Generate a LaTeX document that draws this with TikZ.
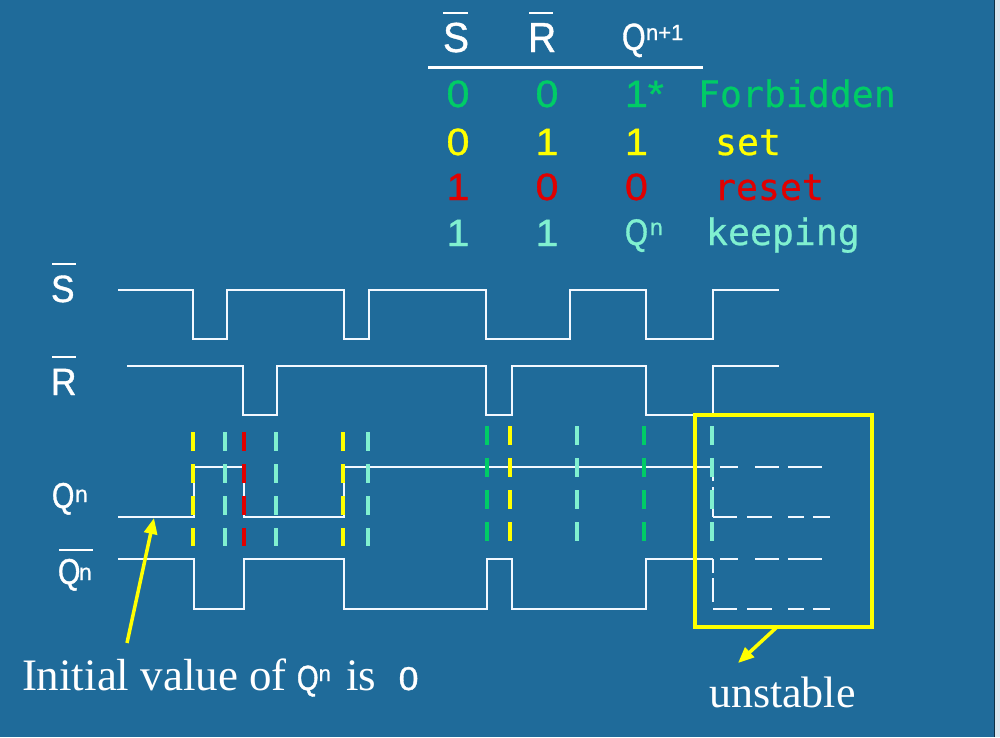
\documentclass[tikz,border=0pt]{standalone}
\usepackage{fontspec}
\setmainfont{Liberation Serif}
\newfontfamily\lab[FakeStretch=0.93, FakeBold=1]{Liberation Sans}
\newfontfamily\labq[FakeStretch=0.8, FakeBold=1]{Liberation Sans}
\newfontfamily\labd[FakeStretch=1.08, FakeBold=1]{Liberation Sans}
\newfontfamily\labw[FakeBold=1]{Liberation Sans}
\newfontfamily\mono[FakeBold=0.6]{DejaVu Sans Mono}
\usetikzlibrary{arrows.meta}
\definecolor{bg}{HTML}{1F6B9A}
\definecolor{wave}{HTML}{F2F8FF}
\definecolor{myyellow}{HTML}{FFFF00}
\definecolor{aqua}{HTML}{80F0D0}
\definecolor{mygreen}{HTML}{00CC66}
\definecolor{myred}{HTML}{E00000}
\definecolor{stripc}{HTML}{DCE6EE}
\newcommand\fs[1]{\fontsize{#1}{#1}\selectfont}
\begin{document}
\begin{tikzpicture}[x=1pt,y=-1pt,
  txt/.style={inner sep=0pt, outer sep=0pt, anchor=base west, text=white},
  txtc/.style={inner sep=0pt, outer sep=0pt, anchor=base},
  wavel/.style={draw=wave, line width=2.2pt, line join=miter},
  bar/.style={draw=white, line width=2.6pt},
  marker/.style={line width=4.5pt, dash pattern=on 18.5pt off 13.5pt},
  dashA/.style={draw=wave, line width=2.2pt, dash pattern=on 18pt off 17pt on 24pt off 9pt on 34pt off 60pt},
  dashB/.style={draw=wave, line width=2.2pt, dash pattern=on 24pt off 10pt on 25pt off 16pt on 16pt off 9pt on 17pt off 60pt},
  yarrow/.style={draw=myyellow, line width=3.5pt, -{Triangle[length=16pt,width=13pt]}}
]
\useasboundingbox (0,0) rectangle (1000,737);
\fill[bg] (0,0) rectangle (1000,737);
\fill[stripc] (994.5,0) rectangle (1000,737);
\draw[black!55!bg, line width=1pt] (994.5,0) -- (994.5,737);

% ---------- table ----------
\node[txt] (hS) at (443,52) {\lab\fs{42}S};
\node[txt] (hR) at (528,52) {\lab\fs{42}R};
\node[txt] (hQ) at (622,50) {\labq\fs{38}Q};
\node[txt] (hQs) at (646,40) {\labw\fs{22}n+1};
\draw[bar] (443,13) -- (468,13);
\draw[bar] (529,13) -- (553,13);
\draw[draw=white, line width=3pt] (428,67) -- (703,67);

\node[txtc, text=mygreen] (a1) at (458,107) {\labd\fs{38}0};
\node[txtc, text=mygreen] (b1) at (547,107) {\labd\fs{38}0};
\node[txt,  text=mygreen] (c1) at (625,107) {\labd\fs{38}1*};
\node[txt,  text=mygreen] (d1) at (698,107) {\mono\fs{36.5}Forbidden};

\node[txtc, text=myyellow] (a2) at (458,155) {\labd\fs{38}0};
\node[txtc, text=myyellow] (b2) at (547,155) {\labd\fs{38}1};
\node[txt,  text=myyellow] (c2) at (625,155) {\labd\fs{38}1};
\node[txt,  text=myyellow] (d2) at (715,155) {\mono\fs{36.5}set};

\node[txtc, text=myred] (a3) at (458,200) {\labd\fs{38}1};
\node[txtc, text=myred] (b3) at (547,200) {\labd\fs{38}0};
\node[txt,  text=myred] (c3) at (625,200) {\labd\fs{38}0};
\node[txt,  text=myred] (d3) at (714,200) {\mono\fs{36.5}reset};

\node[txtc, text=aqua] (a4) at (458,246) {\labd\fs{38}1};
\node[txtc, text=aqua] (b4) at (547,246) {\labd\fs{38}1};
\node[txt,  text=aqua] (c4) at (625,245) {\labq\fs{37}Q};
\node[txt,  text=aqua] (c4s) at (650,235) {\labw\fs{23}n};
\node[txt,  text=aqua] (d4) at (706,245) {\mono\fs{36.5}keeping};

% ---------- signal labels ----------
\node[txt] (lS) at (51,302) {\lab\fs{38}S};
\draw[bar] (52,264) -- (76,264);
\node[txt] (lR) at (51,395) {\lab\fs{38}R};
\draw[bar] (52,357) -- (76,357);
\node[txt] (lQ) at (52,508) {\labq\fs{36}Q};
\node[txt] (lQs) at (75,502) {\labw\fs{23}n};
\node[txt] (lQb) at (58,584) {\labq\fs{36}Q};
\node[txt] (lQbs) at (79,580) {\labw\fs{23}n};
\draw[bar] (59,550) -- (93,550);

% ---------- waveforms ----------
\draw[wavel] (118,290) -- (193,290) -- (193,339) -- (227,339) -- (227,290) -- (344,290) -- (344,339) -- (369,339) -- (369,290) -- (486,290) -- (486,339) -- (570,339) -- (570,290) -- (646,290) -- (646,339) -- (713,339) -- (713,290) -- (779,290);
\draw[wavel] (127,366) -- (243,366) -- (243,415) -- (277,415) -- (277,366) -- (486,366) -- (486,415) -- (512,415) -- (512,366) -- (646,366) -- (646,415) -- (713,415) -- (713,366) -- (779,366);
\draw[wavel] (118,517) -- (194,517) -- (194,467) -- (244,467) -- (244,517) -- (344,517) -- (344,467) -- (713,467);
\draw[wavel] (118,559) -- (194,559) -- (194,609) -- (244,609) -- (244,559) -- (344,559) -- (344,609) -- (487,609) -- (487,559) -- (512,559) -- (512,609) -- (646,609) -- (646,559) -- (713,559);

% unstable continuation
\draw[dashA] (720,467) -- (822,467);
\draw[dashB] (713,517) -- (830,517);
\draw[draw=wave, line width=2.2pt, dash pattern=on 14pt off 6pt] (713,467) -- (713,517);
\draw[dashA] (720,559) -- (822,559);
\draw[dashB] (713,609) -- (830,609);
\draw[draw=wave, line width=2.2pt, dash pattern=on 14pt off 5pt on 24pt off 20pt] (713,559) -- (713,609);

% ---------- markers ----------
\foreach \x/\c in {193/myyellow, 225/aqua, 244/myred, 276/aqua, 343/myyellow, 368/aqua}
  \draw[marker, draw=\c] (\x,432) -- (\x,546);
\foreach \x/\c in {487/mygreen, 510/myyellow, 577/aqua, 644/mygreen, 712/aqua}
  \draw[marker, draw=\c] (\x,426) -- (\x,541);

% ---------- unstable box ----------
\node[draw=myyellow, line width=4.5pt, minimum width=177pt, minimum height=212pt,
      anchor=north west, inner sep=0pt, outer sep=0pt] (box) at (695,415) {};
\node[txt] (unst) at (709,707) {\fs{44}unstable};
\coordinate (uarr) at (738,663);
\draw[yarrow] ([xshift=82pt]box.south west) -- (uarr);

% ---------- initial value ----------
\node[txt] (init) at (22,690) {\fs{45}Initial value of\hspace{10pt}{\labq\fs{35}Q}{\labw\fs{22}\raisebox{9pt}{n}}\hspace{4pt} is\ \ {\labd\fs{33}0}};
\coordinate (itail) at (127,643);
\coordinate (ihead) at (154,518);
\draw[yarrow] (itail) -- (ihead);
\end{tikzpicture}
\end{document}
